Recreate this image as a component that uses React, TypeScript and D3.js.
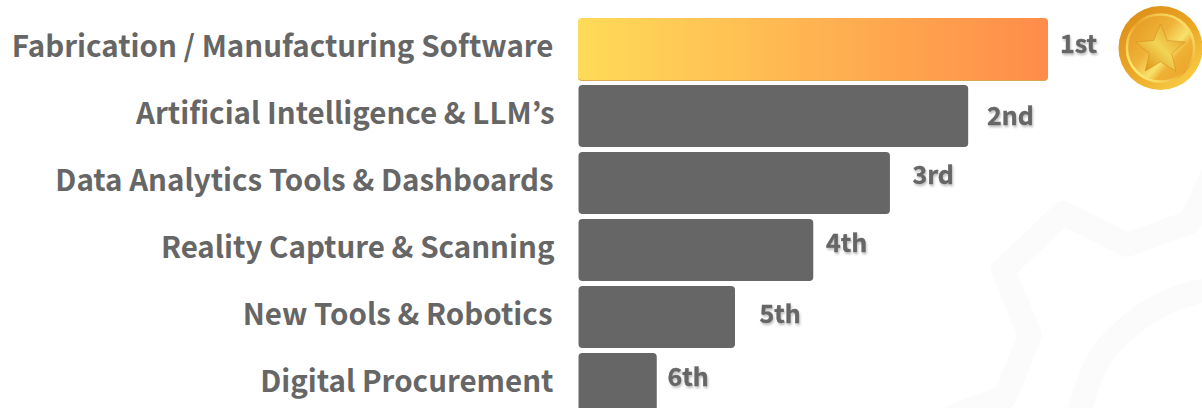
import React from "react";
import * as d3 from "d3";

const categories = [
  "Fabrication / Manufacturing Software",
  "Artificial Intelligence & LLM’s",
  "Data Analytics Tools & Dashboards",
  "Reality Capture & Scanning",
  "New Tools & Robotics",
  "Digital Procurement",
];
const scores = [6, 4.98, 3.98, 3, 2, 1];
const rankLabels = ["1st", "2nd", "3rd", "4th", "5th", "6th"];

// layout only
const FONT = "'Noto Sans CJK JP', 'Noto Sans', sans-serif";
const GREY = "#666666";
const rankX = [1060, 987, 912.5, 826, 759.5, 667.5];
const rankBase = [53, 125, 184, 252, 323, 386];
const labelRight = [553.5, 554.5, 553.5, 554.5, 552.5, 553.5];

const x = d3.scaleLinear().domain([0, 6]).range([578.5, 1048]);
const y = d3.scaleBand<string>().domain(categories).range([18, 415]).paddingInner(5 / 67).paddingOuter(0);

const gearLine = d3.line().curve(d3.curveLinear);
const arcLine = d3.line().curve(d3.curveBasis);

function Medal({ cx, cy, r }: { cx: number; cy: number; r: number }) {
  const star = d3.range(10).map((i) => {
    const rad = i % 2 === 0 ? r * 0.62 : r * 0.28;
    const a = (i * Math.PI) / 5 - Math.PI / 2;
    return [cx + rad * Math.cos(a), cy + 2 + rad * Math.sin(a)] as [number, number];
  });
  return (
    <g>
      <circle cx={cx} cy={cy} r={r} fill="url(#medalOuter)" />
      <circle cx={cx} cy={cy} r={r * 0.8} fill="url(#medalInner)" stroke="url(#medalRing)" strokeWidth={2.5} />
      <path d={d3.line()(star)! + "Z"} fill="url(#medalStar)" stroke="#d48f1c" strokeWidth={0.6} strokeLinejoin="round" />
    </g>
  );
}

export default function App() {
  return (
    <svg
      width={1202}
      height={408}
      viewBox="0 0 1202 408"
      style={{ position: "absolute", left: 0, top: 0, display: "block", background: "#ffffff" }}
    >
      <defs>
        <linearGradient id="topBar" x1="0" x2="1" y1="0" y2="0">
          <stop offset="0" stopColor="#ffdb58" />
          <stop offset="1" stopColor="#ff8c4a" />
        </linearGradient>
        <linearGradient id="medalOuter" x1="0.1" y1="0.05" x2="0.8" y2="0.95">
          <stop offset="0" stopColor="#dc8d18" />
          <stop offset="0.55" stopColor="#eba726" />
          <stop offset="1" stopColor="#f8cc45" />
        </linearGradient>
        <linearGradient id="medalRing" x1="0.1" y1="0.9" x2="0.9" y2="0.1">
          <stop offset="0" stopColor="#fff07a" />
          <stop offset="0.5" stopColor="#e9a52a" />
          <stop offset="1" stopColor="#fbe36a" />
        </linearGradient>
        <linearGradient id="medalInner" x1="0.05" y1="0.1" x2="0.95" y2="0.9">
          <stop offset="0" stopColor="#e59a22" />
          <stop offset="0.4" stopColor="#efb238" />
          <stop offset="0.62" stopColor="#f8e26b" />
          <stop offset="0.72" stopColor="#efb135" />
          <stop offset="1" stopColor="#eaa428" />
        </linearGradient>
        <linearGradient id="medalStar" x1="0.9" y1="0.1" x2="0.1" y2="0.9">
          <stop offset="0" stopColor="#e79f28" />
          <stop offset="0.5" stopColor="#f2d455" />
          <stop offset="1" stopColor="#e09418" />
        </linearGradient>
        <filter id="softShadow" x="-20%" y="-20%" width="140%" height="150%">
          <feDropShadow dx="1" dy="2" stdDeviation="1" floodColor="#000000" floodOpacity="0.25" />
        </filter>
      </defs>

      <g fill="none" stroke="#fbfbfb" strokeWidth={24} strokeLinejoin="round">
        <path d={gearLine([[1215, 170], [1190, 222], [1127, 245], [1063, 213], [1003, 270], [1030, 335], [1005, 397], [930, 425]])!} />
        <path d={arcLine([[1077, 420], [1095, 355], [1135, 320], [1170, 298], [1215, 288]])!} />
      </g>

      {categories.map((c, i) => {
        const by = y(c)!;
        const bh = y.bandwidth();
        return (
          <g key={c}>
            {i === 0 && (
              <rect x={x(0) - 0.5} y={by + 1} width={x(scores[i]) - x(0) + 0.5} height={bh} rx={4} ry={4} fill="#d9a94c" />
            )}
            <rect
              x={i === 0 ? x(0) - 0.5 : x(0)}
              y={by}
              width={x(scores[i]) - x(0) + (i === 0 ? 0.5 : 0)}
              height={bh}
              rx={4}
              ry={4}
              fill={i === 0 ? "url(#topBar)" : GREY}
            />
            <text
              x={labelRight[i]}
              y={by + bh / 2 + 8}
              textAnchor="end"
              fontFamily={FONT}
              fontWeight={700}
              fontSize={29.5}
              fill={GREY}
            >
              {c}
            </text>
            <text
              x={rankX[i]}
              y={rankBase[i]}
              fontFamily={FONT}
              fontWeight={700}
              fontSize={25}
              fill={GREY}
              stroke={GREY}
              strokeWidth={0.4}
              filter="url(#softShadow)"
            >
              {rankLabels[i]}
            </text>
          </g>
        );
      })}

      <Medal cx={1160.5} cy={48} r={42} />
    </svg>
  );
}
